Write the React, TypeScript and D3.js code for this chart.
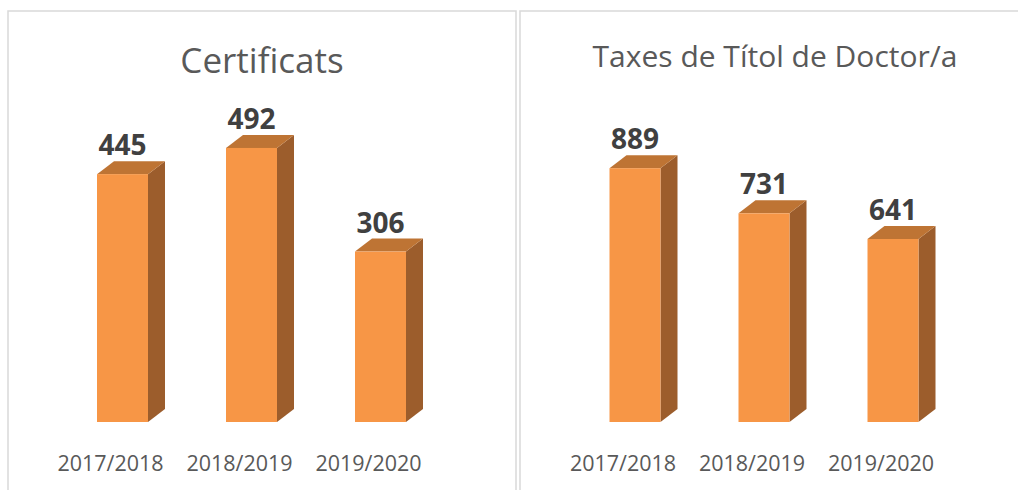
import React from 'react';
import * as d3 from 'd3';

const years = ['2017/2018', '2018/2019', '2019/2020'];
const certificats = [445, 492, 306];
const taxes = [889, 731, 641];

const titles = ['Certificats', 'Taxes de Títol de Doctor/a'];

const FRONT = '#F79646';
const TOP = '#BE7434';
const SIDE = '#9C5D2C';

const depthX = 17;
const depthY = 13;
const barW = 51;
const baseY = 422;

function Panel({ x0, width, title, titleSize, titleY, values, yMax, plotH, firstX }) {
    const x = d3.scalePoint().domain(years).range([firstX, firstX + 258]);
    const y = d3.scaleLinear().domain([0, yMax]).range([baseY, baseY - plotH]);

    return (
        <g>
            <rect x={x0} y={11} width={width} height={500} fill="#fff" stroke="#D9D9D9" strokeWidth={1.5} />
            <text x={x0 + width / 2} y={titleY} textAnchor="middle" fontSize={titleSize} fill="#595959">{title}</text>
            {values.map((v, i) => {
                const cx = x(years[i]);
                const left = cx - barW / 2;
                const right = cx + barW / 2;
                const top = y(v);
                const topFace = `M${left},${top} L${left + depthX},${top - depthY} L${right + depthX},${top - depthY} L${right},${top} Z`;
                const sideFace = `M${right},${top} L${right + depthX},${top - depthY} L${right + depthX},${baseY - depthY} L${right},${baseY} Z`;
                return (
                    <g key={years[i]}>
                        <path d={sideFace} fill={SIDE} />
                        <path d={topFace} fill={TOP} />
                        <rect x={left} y={top} width={barW} height={baseY - top} fill={FRONT} />
                        <text x={cx} y={top - depthY - 6} textAnchor="middle" fontSize={28} fontWeight="bold" fill="#404040">{v}</text>
                        <text x={cx - 12} y={471} textAnchor="middle" fontSize={21.5} fill="#595959">{years[i]}</text>
                    </g>
                );
            })}
        </g>
    );
}

export default function App() {
    return (
        <svg width={1018} height={490} style={{ position: 'absolute', left: 0, top: 0, fontFamily: '"Open Sans", "Noto Sans", sans-serif' }}>
            <rect width={1018} height={490} fill="#fff" />
            <Panel x0={8} width={508} title={titles[0]} titleSize={35} titleY={73}
                values={certificats} yMax={500} plotH={278.5} firstX={122.5} />
            <Panel x0={520} width={510} title={titles[1]} titleSize={30} titleY={67}
                values={taxes} yMax={1000} plotH={285.5} firstX={635} />
        </svg>
    );
}
